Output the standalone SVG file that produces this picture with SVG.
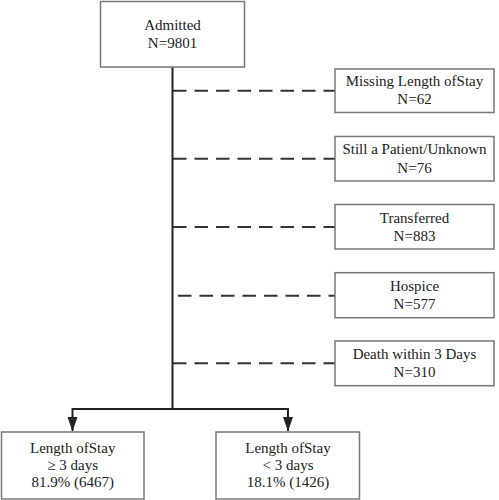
<svg xmlns="http://www.w3.org/2000/svg" width="499" height="500" viewBox="0 0 499 500">
<style>
.box{fill:#fff;stroke:#777;stroke-width:1.5}
.t{font-family:"Liberation Serif","Times New Roman",serif;font-size:15px;fill:#222;text-anchor:middle}
.solid{stroke:#222;stroke-width:2;fill:none}
.dash{stroke:#333;stroke-width:2;stroke-dasharray:13.5 8;fill:none}
</style>
<defs>
<marker id="arr" viewBox="0 0 10 14" refX="5" refY="14" markerWidth="10" markerHeight="14" markerUnits="userSpaceOnUse" orient="auto-start-reverse">
<path d="M1.5,0 L8.5,0 L5,14 Z" fill="#222"/>
</marker>
</defs>
<rect width="499" height="500" fill="#fff"/>
<g id="connectors">
<line class="solid" x1="172.5" y1="67" x2="172.5" y2="409"/>
<polyline class="solid" points="72.5,431 72.5,409 288,409 288,431" fill="none"/>
<path d="M67.5,417 L77.5,417 L72.5,431.5 Z" fill="#222"/>
<path d="M283,417 L293,417 L288,431.5 Z" fill="#222"/>
<line class="dash" x1="173" y1="90.7" x2="335" y2="90.7"/>
<line class="dash" x1="173" y1="158.7" x2="335" y2="158.7"/>
<line class="dash" x1="173" y1="227" x2="335" y2="227"/>
<line class="dash" x1="178" y1="295.7" x2="335" y2="295.7"/>
<line class="dash" x1="173" y1="363.3" x2="335" y2="363.3"/>
</g>
<g id="admitted">
<rect class="box" x="100.5" y="1.5" width="144" height="65.5"/>
<text class="t" x="172.5" y="30">Admitted</text>
<text class="t" x="172.5" y="48">N=9801</text>
</g>
<g id="missing">
<rect class="box" x="335" y="69" width="159" height="43.5"/>
<text class="t" x="414.5" y="86">Missing Length ofStay</text>
<text class="t" x="414.5" y="104">N=62</text>
</g>
<g id="still">
<rect class="box" x="335" y="136.5" width="159" height="44.5"/>
<text class="t" x="414.5" y="154.3">Still a Patient/Unknown</text>
<text class="t" x="414.5" y="172.7">N=76</text>
</g>
<g id="transferred">
<rect class="box" x="335" y="204.5" width="159" height="44.5"/>
<text class="t" x="414.5" y="222.7">Transferred</text>
<text class="t" x="414.5" y="240.7">N=883</text>
</g>
<g id="hospice">
<rect class="box" x="335" y="272.7" width="159" height="45"/>
<text class="t" x="414.5" y="290.7">Hospice</text>
<text class="t" x="414.5" y="309">N=577</text>
</g>
<g id="death">
<rect class="box" x="335" y="341" width="159" height="44.7"/>
<text class="t" x="414.5" y="358.7">Death within 3 Days</text>
<text class="t" x="414.5" y="376.7">N=310</text>
</g>
<g id="los-ge3">
<rect class="box" x="1.5" y="432" width="142.5" height="67"/>
<text class="t" x="72.7" y="453.3">Length ofStay</text>
<text class="t" x="72.7" y="470">≥ 3 days</text>
<text class="t" x="72.7" y="487.3">81.9% (6467)</text>
</g>
<g id="los-lt3">
<rect class="box" x="216" y="432" width="143.5" height="67"/>
<text class="t" x="288" y="453.3">Length ofStay</text>
<text class="t" x="288" y="470">&lt; 3 days</text>
<text class="t" x="288" y="487.3">18.1% (1426)</text>
</g>
</svg>
